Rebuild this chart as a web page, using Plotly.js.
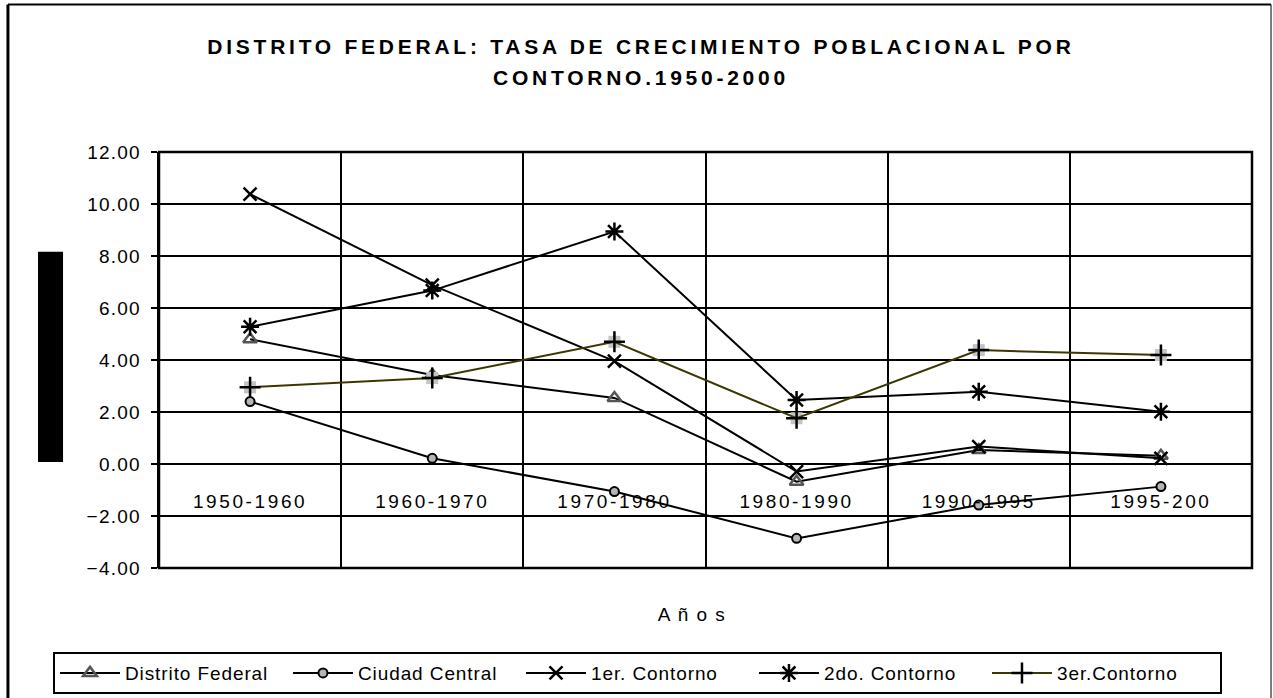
<!DOCTYPE html>
<html>
<head>
<meta charset="utf-8">
<script src="https://cdn.plot.ly/plotly-3.0.1.min.js"></script>
<style>
  html, body { margin: 0; padding: 0; background: #fff; }
  #chart { width: 1273px; height: 698px; }
  #chart .gtitle { letter-spacing: 3.75px; }
  #chart .ytick text { letter-spacing: 1.2px; }
  #chart .xtick text { letter-spacing: 2.6px; }
  #chart .legendtext { letter-spacing: 0.9px; }
  #chart .annotation-text { letter-spacing: 1.5px; }
</style>
</head>
<body>
<div id="chart"></div>
<script>
// ---- data ----
const categories = ['1950-1960', '1960-1970', '1970-1980', '1980-1990', '1990-1995', '1995-200'];
const distritoFederal = [4.80, 3.42, 2.54, -0.68, 0.54, 0.32];
const ciudadCentral   = [2.40, 0.22, -1.06, -2.86, -1.58, -0.87];
const primerContorno  = [10.38, 6.88, 3.96, -0.29, 0.67, 0.22];
const segundoContorno = [5.28, 6.67, 8.94, 2.46, 2.78, 2.01];
const tercerContorno  = [2.95, 3.31, 4.70, 1.76, 4.38, 4.19];
const seriesNames = ['Distrito Federal', 'Ciudad Central', '1er. Contorno', '2do. Contorno', '3er.Contorno'];
const yTickValues = [-4, -2, 0, 2, 4, 6, 8, 10, 12];

const FONT = 'Liberation Sans, Arial, sans-serif';

const traces = [
  {
    x: categories, y: distritoFederal, name: seriesNames[0], type: 'scatter', mode: 'lines+markers',
    line: {color: '#000', width: 2},
    marker: {symbol: 'triangle-up-open', size: 12, color: '#555', line: {width: 2.5, color: '#555'}}
  },
  {
    x: categories, y: ciudadCentral, name: seriesNames[1], type: 'scatter', mode: 'lines+markers',
    line: {color: '#000', width: 2},
    marker: {symbol: 'circle', size: 9, color: '#b5b5b5', line: {width: 2, color: '#000'}}
  },
  {
    x: categories, y: primerContorno, name: seriesNames[2], type: 'scatter', mode: 'lines+markers',
    line: {color: '#000', width: 2},
    marker: {symbol: 'x-thin-open', size: 13, color: '#000', line: {width: 2.5, color: '#000'}}
  },
  {
    x: categories, y: segundoContorno, name: seriesNames[3], type: 'scatter', mode: 'lines+markers',
    line: {color: '#000', width: 2},
    marker: {symbol: 'asterisk-open', size: 15, color: '#000', line: {width: 2.5, color: '#000'}}
  },
  {
    x: categories, y: tercerContorno, name: seriesNames[4], type: 'scatter', mode: 'markers',
    showlegend: false, hoverinfo: 'skip',
    marker: {symbol: 'square', size: 12, color: '#c4c4c4'}
  },
  {
    x: categories, y: tercerContorno, name: seriesNames[4], type: 'scatter', mode: 'lines+markers',
    line: {color: '#3a3800', width: 2},
    marker: {symbol: 'cross-thin-open', size: 15, color: '#000', line: {width: 2.5, color: '#000'}}
  }
];

const layout = {
  width: 1273, height: 698,
  margin: {l: 159, r: 21, t: 152, b: 130, autoexpand: false},
  paper_bgcolor: '#fff', plot_bgcolor: '#fff',
  font: {family: FONT, color: '#000'},
  title: {
    text: "<span style='font-size:21px'><b>DISTRITO FEDERAL: TASA DE CRECIMIENTO POBLACIONAL POR</b></span><br><span style='font-size:21px'><b>CONTORNO.1950-2000</b></span>",
    font: {family: FONT, size: 24, color: '#000'},
    x: 0.5035, xref: 'container', xanchor: 'center',
    y: 1 - 54 / 698, yref: 'container', yanchor: 'top'
  },
  xaxis: {
    type: 'category', range: [-0.5, 5.5], tickson: 'boundaries',
    anchor: 'free', position: 0.25,
    showgrid: true, gridcolor: '#000', gridwidth: 2,
    ticks: 'outside', ticklen: 8, tickwidth: 2, tickcolor: '#000',
    ticklabelstandoff: 24,
    showline: false, zeroline: false,
    tickfont: {family: FONT, size: 19, color: '#000'},
    fixedrange: true
  },
  yaxis: {
    range: [-4, 12], tickvals: yTickValues, tickformat: '.2f',
    showgrid: true, gridcolor: '#000', gridwidth: 2,
    zeroline: true, zerolinecolor: '#000', zerolinewidth: 2.5,
    showline: true, linecolor: '#000', linewidth: 2.5,
    ticks: 'outside', ticklen: 6, tickwidth: 2, tickcolor: '#000',
    ticklabelstandoff: 6,
    tickfont: {family: FONT, size: 19, color: '#000'},
    fixedrange: true
  },
  legend: {
    orientation: 'h', x: -0.097, xanchor: 'left', y: -0.202, yanchor: 'top',
    bgcolor: '#fff', bordercolor: '#000', borderwidth: 2,
    font: {family: FONT, size: 19, color: '#000'},
    itemwidth: 60, entrywidth: 158, entrywidthmode: 'pixels', traceorder: 'normal'
  },
  annotations: [
    {
      text: 'A ñ o s', xref: 'paper', yref: 'paper', x: 0.4877, y: -0.1106,
      xanchor: 'center', yanchor: 'middle', showarrow: false,
      font: {family: FONT, size: 19, color: '#000'}
    }
  ],
  shapes: [
    {type: 'rect', xref: 'paper', yref: 'paper', x0: 0, x1: 1, y0: 0, y1: 1,
     line: {color: '#000', width: 2.5}},
    {type: 'rect', xref: 'paper', yref: 'paper', x0: -0.1107, x1: -0.0878, y0: 0.2548, y1: 0.76,
     fillcolor: '#000', line: {width: 0}},
    {type: 'line', xref: 'paper', yref: 'paper', x0: -0.1382, x1: -0.1382, y0: -0.33, y1: 1.3546,
     line: {color: '#000', width: 3}},
    {type: 'line', xref: 'paper', yref: 'paper', x0: -0.1382, x1: 1.0174, y0: 1.3546, y1: 1.3546,
     line: {color: '#000', width: 2}},
    {type: 'line', xref: 'paper', yref: 'paper', x0: 1.0174, x1: 1.0174, y0: -0.33, y1: 1.3546,
     line: {color: '#000', width: 1}}
  ],
  showlegend: true
};

Plotly.newPlot('chart', traces, layout, {displayModeBar: false, staticPlot: true});
</script>
</body>
</html>
